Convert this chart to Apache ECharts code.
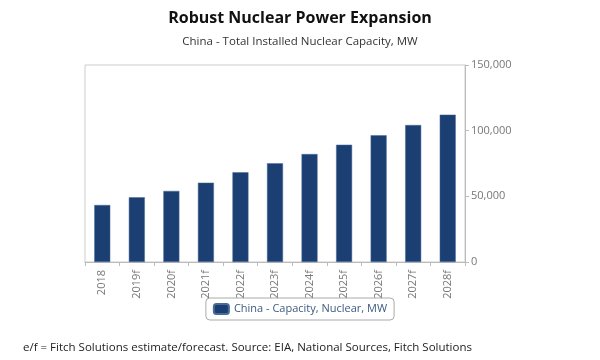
<!DOCTYPE html>
<html><head><meta charset="utf-8">
<script src="https://cdn.jsdelivr.net/npm/echarts@6/dist/echarts.min.js"></script>
<style>html,body{margin:0;padding:0;background:#fff}#c{width:600px;height:360px}</style>
</head><body><div id="c"></div>
<script>
const categories = ['2018','2019f','2020f','2021f','2022f','2023f','2024f','2025f','2026f','2027f','2028f'];
const capacity = [43400, 49300, 54100, 60400, 68300, 75200, 82200, 89300, 96500, 104300, 112200];
const seriesName = 'China - Capacity, Nuclear, MW';
const yTicks = [0, 50000, 100000, 150000];

const chart = echarts.init(document.getElementById('c'), null, {renderer:'canvas'});
chart.setOption({
  backgroundColor: '#fff',
  animation: false,
  textStyle: {fontFamily: 'Open Sans'},
  title: [
    {text: 'Robust Nuclear Power Expansion', left: 'center', top: 5,
     textStyle: {fontFamily: 'Open Sans', fontWeight: 'bold', fontSize: 16, color: '#111'}},
    {text: 'China - Total Installed Nuclear Capacity, MW', left: 'center', top: 31,
     textStyle: {fontFamily: 'Open Sans', fontWeight: 'normal', fontSize: 11.5, color: '#333'}},
    {text: 'e/f = Fitch Solutions estimate/forecast. Source: EIA, National Sources, Fitch Solutions', left: 18, top: 337,
     textStyle: {fontFamily: 'Open Sans', fontWeight: 'normal', fontSize: 11.5, color: '#222'}}
  ],
  grid: {left: 85, right: 135, top: 65, bottom: 98, show: true, borderColor: '#ccc', borderWidth: 1},
  legend: {
    data: [seriesName], top: 298, left: 'center',
    itemWidth: 15, itemHeight: 10, itemGap: 5,
    borderColor: '#aaa', borderWidth: 1, borderRadius: 4, padding: [5, 7],
    textStyle: {fontFamily: 'Open Sans', fontSize: 11, color: '#3d5a80'}
  },
  xAxis: {
    type: 'category', data: categories,
    axisLine: {lineStyle: {color: '#bbb'}},
    axisTick: {show: true, length: 4, lineStyle: {color: '#bbb'}},
    axisLabel: {rotate: 90, color: '#777', fontSize: 11, margin: 8}
  },
  yAxis: {
    type: 'value', position: 'right', min: yTicks[0], max: yTicks[yTicks.length-1], interval: 50000,
    splitLine: {show: false},
    axisLine: {show: true, lineStyle: {color: '#bbb'}},
    axisTick: {show: true, length: 4, lineStyle: {color: '#bbb'}},
    axisLabel: {color: '#777', fontSize: 11, margin: 6,
      formatter: v => v.toLocaleString('en-US')}
  },
  series: [{
    name: seriesName, type: 'bar', data: capacity, barWidth: 16,
    itemStyle: {color: '#1b3f73', borderColor: '#4a6a99', borderWidth: 0.5}
  }]
});
</script></body></html>
